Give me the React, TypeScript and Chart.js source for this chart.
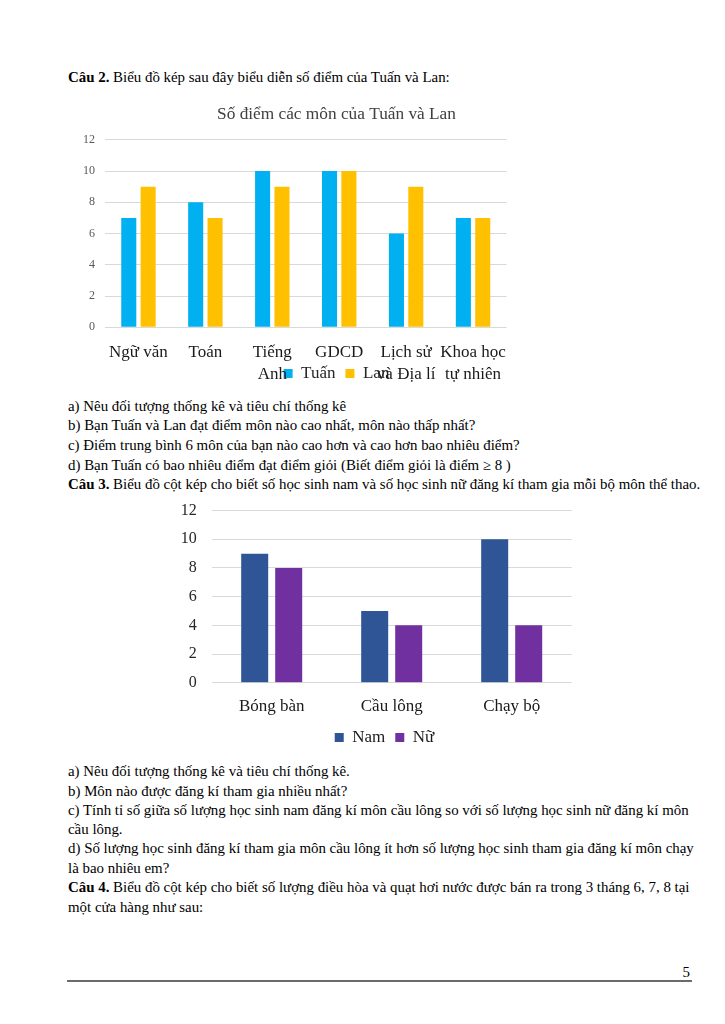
import React, { useEffect, useRef } from "react";
import { Chart, registerables } from "chart.js";

Chart.register(...registerables);

// ---------- Chart 1 data ----------
const subjectLabels: string[][] = [
  ["Ngữ văn"],
  ["Toán"],
  ["Tiếng", "Anh"],
  ["GDCD"],
  ["Lịch sử", "và Địa lí"],
  ["Khoa học", "tự nhiên"],
];
const tuanScores = [7, 8, 10, 10, 6, 7];
const lanScores = [9, 7, 9, 10, 9, 7];
const chart1Title = "Số điểm các môn của Tuấn và Lan";
const scoreMin = 0;
const scoreMax = 12;
const scoreStep = 2;

// ---------- Chart 2 data ----------
const sportLabels = ["Bóng bàn", "Cầu lông", "Chạy bộ"];
const maleCounts = [9, 5, 10];
const femaleCounts = [8, 4, 4];
const countMin = 0;
const countMax = 12;
const countStep = 2;

const SERIF = "'Liberation Serif', 'Times New Roman', serif";

type Line = { y: number; bold?: string; text: string };
const textLines: Line[] = [
  { y: 77, bold: "Câu 2.", text: " Biểu đồ kép sau đây biểu diễn số điểm của Tuấn và Lan:" },
  { y: 406, text: "a) Nêu đối tượng thống kê và tiêu chí thống kê" },
  { y: 425, text: "b) Bạn Tuấn và Lan đạt điểm môn nào cao nhất, môn nào thấp nhất?" },
  { y: 445, text: "c) Điểm trung bình 6 môn của bạn nào cao hơn và cao hơn bao nhiêu điểm?" },
  { y: 465, text: "d) Bạn Tuấn có bao nhiêu điểm đạt điểm giỏi (Biết điểm giỏi là điểm ≥ 8 )" },
  { y: 484, bold: "Câu 3.", text: " Biểu đồ cột kép cho biết số học sinh nam và số học sinh nữ đăng kí tham gia mỗi bộ môn thể thao." },
  { y: 771, text: "a) Nêu đối tượng thống kê và tiêu chí thống kê." },
  { y: 791, text: "b) Môn nào được đăng kí tham gia nhiều nhất?" },
  { y: 810, text: "c) Tính tỉ số giữa số lượng học sinh nam đăng kí môn cầu lông so với số lượng học sinh nữ đăng kí môn" },
  { y: 829, text: "cầu lông." },
  { y: 848, text: "d) Số lượng học sinh đăng kí tham gia môn cầu lông ít hơn số lượng học sinh tham gia đăng kí môn chạy" },
  { y: 868, text: "là bao nhiêu em?" },
  { y: 887, bold: "Câu 4.", text: " Biểu đồ cột kép cho biết số lượng điều hòa và quạt hơi nước được bán ra trong 3 tháng 6, 7, 8 tại" },
  { y: 907, text: "một cửa hàng như sau:" },
];

const C1 = { left: 60, top: 100, width: 553, height: 292 };
const C2 = { left: 160, top: 486, width: 449, height: 270 };

// let the category labels spill outside their (deliberately short) axis box,
// so that the legend overlaps their second line as in the original
const noLabelClip = (s: any) => {
  s._computeLabelArea = () => undefined;
};

function makeChart1(canvas: HTMLCanvasElement) {
  return new Chart(canvas, {
    type: "bar",
    data: {
      labels: subjectLabels,
      datasets: [
        {
          label: "Tuấn",
          data: tuanScores,
          backgroundColor: "#00B0F0",
          categoryPercentage: 0.579,
          barPercentage: 0.777,
        },
        {
          label: "Lan",
          data: lanScores,
          backgroundColor: "#FFC000",
          categoryPercentage: 0.579,
          barPercentage: 0.777,
        },
      ],
    },
    options: {
      responsive: false,
      animation: false,
      layout: { padding: 0 },
      plugins: {
        tooltip: { enabled: false },
        title: {
          display: true,
          text: chart1Title,
          color: "#404040",
          font: { family: SERIF, size: 17.3, weight: "normal", lineHeight: 1.2 },
          padding: { top: 4, bottom: 15 },
        },
        legend: {
          position: "bottom",
          labels: {
            boxWidth: 9,
            boxHeight: 9,
            padding: 10,
            color: "#262626",
            font: { family: SERIF, size: 17 },
          },
        },
      },
      scales: {
        x: {
          grid: { display: false, drawTicks: false },
          border: { display: false },
          ticks: {
            color: "#1a1a1a",
            padding: 13.5,
            maxRotation: 0,
            autoSkip: false,
            font: { family: SERIF, size: 17, lineHeight: 1.33 },
          },
          afterFit: (s: any) => {
            s.height = 27.7;
            noLabelClip(s);
          },
        },
        y: {
          min: scoreMin,
          max: scoreMax,
          grid: { color: "#D9D9D9", drawTicks: false, lineWidth: 1 },
          border: { display: false },
          ticks: {
            stepSize: scoreStep,
            color: "#595959",
            padding: 10,
            font: { family: SERIF, size: 12 },
          },
          afterFit: (s: any) => {
            s.width = 45;
          },
        },
        yPad: {
          type: "linear",
          position: "right",
          display: true,
          grid: { display: false, drawTicks: false },
          border: { display: false },
          ticks: { display: false },
          afterFit: (s: any) => {
            s.width = 106.5;
          },
        },
      },
    },
  } as any);
}

function makeChart2(canvas: HTMLCanvasElement) {
  return new Chart(canvas, {
    type: "bar",
    data: {
      labels: sportLabels,
      datasets: [
        {
          label: "Nam",
          data: maleCounts,
          backgroundColor: "#2F5597",
          categoryPercentage: 0.567,
          barPercentage: 0.794,
        },
        {
          label: "Nữ",
          data: femaleCounts,
          backgroundColor: "#7030A0",
          categoryPercentage: 0.567,
          barPercentage: 0.794,
        },
      ],
    },
    options: {
      responsive: false,
      animation: false,
      layout: { padding: { top: 20, left: 0, right: 0, bottom: 0 } },
      plugins: {
        tooltip: { enabled: false },
        title: { display: false },
        legend: {
          position: "bottom",
          labels: {
            boxWidth: 9,
            boxHeight: 9,
            padding: 10,
            color: "#1a1a1a",
            font: { family: SERIF, size: 17 },
          },
        },
      },
      scales: {
        x: {
          grid: { display: false, drawTicks: false },
          border: { display: false },
          ticks: {
            color: "#1a1a1a",
            padding: 14,
            maxRotation: 0,
            autoSkip: false,
            font: { family: SERIF, size: 17, lineHeight: 1.2 },
          },
          afterFit: (s: any) => {
            s.height = 36.3;
            noLabelClip(s);
          },
        },
        y: {
          min: countMin,
          max: countMax,
          grid: { color: "#D9D9D9", drawTicks: false, lineWidth: 1 },
          border: { display: false },
          ticks: {
            stepSize: countStep,
            color: "#262626",
            padding: 15,
            font: { family: SERIF, size: 16 },
          },
          afterFit: (s: any) => {
            s.width = 51.7;
          },
        },
        yPad: {
          type: "linear",
          position: "right",
          display: true,
          grid: { display: false, drawTicks: false },
          border: { display: false },
          ticks: { display: false },
          afterFit: (s: any) => {
            s.width = 37.3;
          },
        },
      },
    },
  } as any);
}

export default function App() {
  const ref1 = useRef<HTMLCanvasElement>(null);
  const ref2 = useRef<HTMLCanvasElement>(null);

  useEffect(() => {
    const ch1 = makeChart1(ref1.current!);
    const ch2 = makeChart2(ref2.current!);
    return () => {
      ch1.destroy();
      ch2.destroy();
    };
  }, []);

  const canvasStyle = (c: typeof C1): React.CSSProperties => ({
    position: "absolute",
    left: c.left,
    top: c.top,
    width: c.width,
    height: c.height,
  });

  return (
    <div
      style={{
        position: "absolute",
        left: 0,
        top: 0,
        width: 725,
        height: 1024,
        background: "#ffffff",
        fontFamily: SERIF,
        color: "#000",
        overflow: "hidden",
      }}
    >
      {textLines.map((l, i) => (
        <div
          key={i}
          style={{
            position: "absolute",
            left: 68,
            top: l.y - 10,
            height: 20,
            lineHeight: "20px",
            fontSize: 14.9,
            whiteSpace: "nowrap",
          }}
        >
          {l.bold ? <b>{l.bold}</b> : null}
          {l.text}
        </div>
      ))}
      <canvas ref={ref1} width={C1.width} height={C1.height} style={canvasStyle(C1)} />
      <canvas ref={ref2} width={C2.width} height={C2.height} style={canvasStyle(C2)} />
      <div
        style={{
          position: "absolute",
          left: 600,
          width: 90,
          top: 962,
          height: 20,
          lineHeight: "20px",
          fontSize: 14.9,
          textAlign: "right",
        }}
      >
        5
      </div>
      <div
        style={{
          position: "absolute",
          left: 67,
          top: 980,
          width: 625,
          height: 2,
          background: "#6b6b6b",
        }}
      />
    </div>
  );
}
